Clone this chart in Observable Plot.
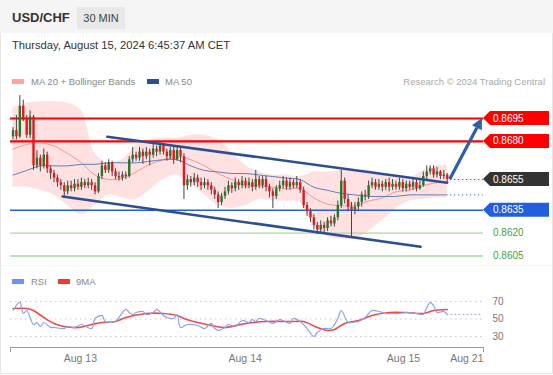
<!DOCTYPE html>
<html><head><meta charset="utf-8">
<script src="https://cdn.jsdelivr.net/npm/d3@7"></script>
<script src="https://cdn.jsdelivr.net/npm/@observablehq/plot@0.6"></script>
<style>
body{margin:0;background:#fff;font-family:"Liberation Sans",Arial,sans-serif;}
#root{position:relative;width:553px;height:375px;overflow:hidden;background:#fff;}
.a{position:absolute;white-space:nowrap;}
.lg{font-size:9.5px;line-height:11px;color:#888;}
.sw{height:5px;width:12px;}
</style></head><body>
<div id="root">
  <div class="a" style="left:0;top:0;width:553px;height:33px;background:#f5f5f5"></div>
  <div class="a" style="left:0;top:33px;width:551px;height:340px;border:1px solid #e6e6e6;border-top:none"></div>
  <div class="a" style="left:12px;top:10px;font-size:13px;font-weight:bold;color:#333">USD/CHF</div>
  <div class="a" style="left:77px;top:7px;width:48px;height:22px;line-height:22px;text-align:center;background:#e8e8e8;font-size:11px;color:#444">30 MIN</div>
  <div class="a" style="left:12px;top:39px;font-size:11.2px;color:#333">Thursday, August 15, 2024 6:45:37 AM CET</div>

  <div class="a sw" style="left:12px;top:79px;background:#ffa3a3"></div>
  <div class="a lg" style="left:31px;top:76px">MA 20 + Bollinger Bands</div>
  <div class="a sw" style="left:147px;top:79px;background:#2d4f8e"></div>
  <div class="a lg" style="left:165px;top:76px">MA 50</div>
  <div class="a lg" style="right:8px;top:76px;color:#aaa">Research © 2024 Trading Central</div>

  <div id="main" class="a" style="left:0;top:88px"></div>
  <div class="a" style="left:2px;top:265px;width:549px;border-top:1px dotted #ececec"></div>

  <div class="a sw" style="left:12px;top:279px;background:#6f92ee"></div>
  <div class="a lg" style="left:31px;top:276px">RSI</div>
  <div class="a sw" style="left:58px;top:279px;background:#f03a3a"></div>
  <div class="a lg" style="left:76px;top:276px">9MA</div>

  <div id="rsi" class="a" style="left:0;top:288px"></div>
</div>
<script>
// ---------- candles (30 min), index 0 .. 127 ----------
const opens = [0.8683,0.8687,0.8683,0.8703,0.8695,0.8684,0.8696,0.8664,0.8669,0.8664,
0.8671,0.8662,0.8659,0.8656,0.8653,0.8651,0.8647,0.8651,0.8649,0.8652,
0.8650,0.8653,0.8651,0.8653,0.8651,0.8647,0.8657,0.8664,0.8661,0.8666,
0.8660,0.8657,0.8656,0.8658,0.8657,0.8668,0.8671,0.8669,0.8673,0.8670,
0.8673,0.8671,0.8675,0.8673,0.8677,0.8673,0.8670,0.8674,0.8668,0.8674,
0.8670,0.8651,0.8655,0.8653,0.8656,0.8653,0.8651,0.8653,0.8651,0.8648,
0.8645,0.8640,0.8644,0.8647,0.8651,0.8649,0.8653,0.8651,0.8654,0.8651,
0.8653,0.8650,0.8655,0.8651,0.8655,0.8650,0.8647,0.8644,0.8649,0.8651,
0.8654,0.8650,0.8653,0.8651,0.8653,0.8648,0.8638,0.8634,0.8630,0.8625,
0.8622,0.8625,0.8623,0.8628,0.8626,0.8630,0.8638,0.8654,0.8642,0.8637,
0.8635,0.8637,0.8640,0.8645,0.8644,0.8651,0.8653,0.8650,0.8652,0.8650,
0.8653,0.8650,0.8652,0.8650,0.8653,0.8649,0.8652,0.8650,0.8653,0.8649,
0.8651,0.8657,0.8660,0.8662,0.8658,0.8660,0.8657,0.8658];
const closes = [0.8687,0.8683,0.8703,0.8695,0.8684,0.8696,0.8664,0.8669,0.8664,0.8671,
0.8662,0.8659,0.8656,0.8653,0.8651,0.8647,0.8651,0.8649,0.8652,0.8650,
0.8653,0.8651,0.8653,0.8651,0.8647,0.8657,0.8664,0.8661,0.8666,0.8660,
0.8657,0.8656,0.8658,0.8657,0.8668,0.8671,0.8669,0.8673,0.8670,0.8673,
0.8671,0.8675,0.8673,0.8677,0.8673,0.8670,0.8674,0.8668,0.8674,0.8670,
0.8651,0.8655,0.8653,0.8656,0.8653,0.8651,0.8653,0.8651,0.8648,0.8645,
0.8640,0.8644,0.8647,0.8651,0.8649,0.8653,0.8651,0.8654,0.8651,0.8653,
0.8650,0.8655,0.8651,0.8655,0.8650,0.8647,0.8644,0.8649,0.8651,0.8654,
0.8650,0.8653,0.8651,0.8653,0.8648,0.8638,0.8634,0.8630,0.8625,0.8622,
0.8625,0.8623,0.8628,0.8626,0.8630,0.8638,0.8654,0.8642,0.8637,0.8635,
0.8637,0.8640,0.8645,0.8644,0.8651,0.8653,0.8650,0.8652,0.8650,0.8653,
0.8650,0.8652,0.8650,0.8653,0.8649,0.8652,0.8650,0.8653,0.8649,0.8651,
0.8657,0.8660,0.8662,0.8658,0.8660,0.8657,0.8658,0.8655];
const highs = [0.8689,0.8697,0.8710,0.8707,0.8697,0.8700,0.8697,0.8674,0.8671,0.8675,
0.8673,0.8664,0.8661,0.8658,0.8655,0.8653,0.8654,0.8654,0.8655,0.8655,
0.8656,0.8655,0.8656,0.8655,0.8653,0.8659,0.8667,0.8666,0.8668,0.8667,
0.8662,0.8660,0.8660,0.8660,0.8670,0.8676,0.8673,0.8676,0.8675,0.8676,
0.8675,0.8678,0.8677,0.8679,0.8678,0.8675,0.8676,0.8676,0.8677,0.8676,
0.8672,0.8658,0.8657,0.8659,0.8658,0.8656,0.8656,0.8655,0.8653,0.8650,
0.8647,0.8646,0.8650,0.8654,0.8653,0.8656,0.8655,0.8657,0.8656,0.8656,
0.8655,0.8661,0.8657,0.8657,0.8657,0.8652,0.8649,0.8651,0.8654,0.8657,
0.8656,0.8656,0.8655,0.8657,0.8655,0.8650,0.8640,0.8636,0.8632,0.8627,
0.8628,0.8627,0.8630,0.8631,0.8632,0.8641,0.8661,0.8656,0.8645,0.8640,
0.8640,0.8643,0.8647,0.8648,0.8654,0.8656,0.8655,0.8655,0.8654,0.8655,
0.8656,0.8655,0.8654,0.8656,0.8655,0.8654,0.8654,0.8655,0.8655,0.8654,
0.8660,0.8664,0.8664,0.8664,0.8663,0.8661,0.8661,0.8659];
const lows = [0.8681,0.8681,0.8682,0.8693,0.8682,0.8682,0.8661,0.8662,0.8660,0.8662,
0.8659,0.8655,0.8653,0.8650,0.8648,0.8644,0.8645,0.8647,0.8647,0.8648,
0.8648,0.8649,0.8649,0.8648,0.8645,0.8646,0.8655,0.8659,0.8659,0.8657,
0.8655,0.8654,0.8654,0.8655,0.8656,0.8666,0.8667,0.8667,0.8665,0.8668,
0.8664,0.8669,0.8670,0.8671,0.8671,0.8667,0.8668,0.8665,0.8667,0.8666,
0.8642,0.8648,0.8650,0.8651,0.8650,0.8648,0.8649,0.8648,0.8645,0.8642,
0.8636,0.8638,0.8642,0.8645,0.8646,0.8647,0.8648,0.8649,0.8649,0.8649,
0.8647,0.8648,0.8649,0.8649,0.8647,0.8643,0.8636,0.8642,0.8647,0.8649,
0.8648,0.8648,0.8649,0.8649,0.8646,0.8636,0.8631,0.8627,0.8622,0.8619,
0.8620,0.8620,0.8621,0.8624,0.8624,0.8628,0.8636,0.8639,0.8634,0.8617,
0.8632,0.8634,0.8637,0.8641,0.8642,0.8649,0.8648,0.8648,0.8647,0.8648,
0.8647,0.8648,0.8648,0.8648,0.8647,0.8647,0.8648,0.8648,0.8647,0.8648,
0.8650,0.8655,0.8658,0.8656,0.8656,0.8655,0.8655,0.8653];

const bandIdx  = [0,4,8,12,16,20,24,28,32,36,40,44,48,52,56,60,64,68,72,76,80,84,88,92,96,100,104,108,112,116,120,124,127];
const bandUpper= [0.8702,0.8705,0.8706,0.8706,0.8705,0.8700,0.8672,0.8666,0.8668,0.8677,0.8681,0.8682,0.8682,0.8684,0.8684,0.8681,0.8673,0.8664,0.8660,0.8658,0.8658,0.8657,0.8660,0.8660,0.8661,0.8661,0.8661,0.8659,0.8657,0.8656,0.8661,0.8664,0.8664];
const bandLower= [0.8650,0.8650,0.8648,0.8645,0.8638,0.8632,0.8638,0.8645,0.8643,0.8642,0.8648,0.8655,0.8658,0.8652,0.8645,0.8638,0.8636,0.8638,0.8642,0.8641,0.8641,0.8640,0.8625,0.8618,0.8616,0.8616,0.8621,0.8628,0.8636,0.8641,0.8642,0.8643,0.8643];
const ma20     = [0.8675,0.8678,0.8679,0.8677,0.8672,0.8666,0.8658,0.8655,0.8656,0.8660,0.8665,0.8668,0.8670,0.8668,0.8664,0.8659,0.8655,0.8651,0.8651,0.8650,0.8649,0.8649,0.8643,0.8639,0.8638,0.8638,0.8641,0.8643,0.8647,0.8648,0.8651,0.8653,0.8653];
const ma50     = [0.8658,0.8661,0.8664,0.8664,0.8664,0.8665,0.8665,0.8666,0.8666,0.8666,0.8667,0.8668,0.8668,0.8664,0.8661,0.8660,0.8659,0.8659,0.8658,0.8657,0.8656,0.8655,0.8650,0.8648,0.8646,0.8645,0.8644,0.8644,0.8644,0.8645,0.8645,0.8645,0.8645];

// ---------- levels ----------
const resistance = [0.8695, 0.8680];
const pivot = [0.8635];
const support = [0.8620, 0.8605];
const lastPrice = 0.8655;
const ma50Last = 0.8645;
const tagLevels = [0.8695, 0.8680, 0.8655, 0.8635, 0.8620, 0.8605];
const tagFills  = ["#ff0000", "#ff0000", "#333333", "#1f5fe0", null, null];
const tagTexts  = ["#ffffff", "#ffffff", "#ffffff", "#ffffff", "#46a13c", "#46a13c"];

// ---------- channel and arrow ----------
const upperChannel = [{i: 27.6, p: 0.8683}, {i: 127, p: 0.8653}];
const lowerChannel = [{i: 14.5, p: 0.8644}, {i: 119.2, p: 0.8611}];
const arrowFrom = {i: 127.9, p: 0.8655};
const arrowTo   = {i: 137.3, p: 0.8695};

// ---------- RSI ----------
const rsiIdx = [0,2,3,4,6,7,8,9,11,12,15,16,18,20,23,24,26,27,30,31,33,34,35,36,38,39,41,42,44,45,47,48,49,51,54,56,58,59,60,62,63,65,67,69,70,71,72,74,76,78,79,81,82,84,86,88,89,91,93,95,96,98,99,101,103,105,107,109,111,113,115,118,120,121,122,123,124,126,127];
const rsiVal = [59.7,68.9,56.3,59.7,43.7,46.0,41.4,46.0,40.3,40.3,39.1,41.4,40.3,43.7,39.1,50.6,54.0,47.1,47.1,51.7,60.9,57.4,55.1,57.4,58.6,55.1,57.4,60.9,54.0,51.7,50.6,55.1,40.3,43.7,42.6,39.1,44.9,39.1,36.9,40.3,43.7,41.4,48.3,46.0,49.4,47.1,50.6,48.3,44.9,49.4,48.3,44.9,50.6,47.1,39.1,30.0,34.6,39.1,39.1,50.6,59.7,46.0,46.0,47.1,51.7,59.7,58.6,56.3,56.3,56.3,57.4,56.3,55.1,63.1,68.9,65.4,57.4,58.6,55.1];
const maIdx = [0,4,6,9,12,15,19,23,26,30,33,39,44,48,50,54,58,62,68,74,82,85,89,92,94,97,101,105,110,115,120,123,127];
const maVal = [62.0,62.0,59.7,51.7,44.9,41.4,40.3,43.7,46.0,47.1,51.7,56.3,56.3,54.0,50.6,46.0,42.6,40.3,44.9,47.1,47.1,47.1,40.3,36.9,38.0,44.9,48.3,54.0,57.4,57.4,56.3,59.7,60.9];
const rsiLevels = [30, 50, 70];
const rsiLast = 55.1;

// ---------- time axis ----------
const xStart = -0.73, xEnd = 137.6;
const timeTicks = [19.7, 67.9, 114.2];
const timeLabels = ["Aug 13", "Aug 14", "Aug 15"];
const endLabel = "Aug 21";

// ---------- build ----------
const candles = closes.map((c, i) => ({i, o: opens[i], c, h: highs[i], l: lows[i]}));
const band = bandIdx.map((i, k) => ({i, up: bandUpper[k], lo: bandLower[k], m20: ma20[k], m50: ma50[k]}));
const rsi = rsiIdx.map((i, k) => ({i, v: rsiVal[k]}));
const rsiMa = maIdx.map((i, k) => ({i, v: maVal[k]}));
const font = "Liberation Sans, Arial, sans-serif";

function tagMark(index, scales, values, dims) {
  const g = d3.create("svg:g").attr("text-anchor", "start");
  const x0 = dims.width - dims.marginRight;
  tagLevels.forEach((lv, k) => {
    const y = scales.y(lv);
    if (tagFills[k]) {
      g.append("path")
        .attr("d", `M${x0},${y}L${x0 + 7},${y - 7}H${x0 + 66}V${y + 7}H${x0 + 7}Z`)
        .attr("fill", tagFills[k]);
    }
    g.append("text").attr("x", x0 + 10).attr("y", y).attr("dy", "0.35em")
      .attr("text-anchor", "start")
      .attr("fill", tagTexts[k]).attr("font-size", 10).attr("font-family", font)
      .text(lv.toFixed(4));
  });
  return g.node();
}

// filled arrow head drawn through the scales, oriented along the arrow
function arrowHead(index, scales) {
  const x1 = scales.x(arrowFrom.i), y1 = scales.y(arrowFrom.p);
  const x2 = scales.x(arrowTo.i), y2 = scales.y(arrowTo.p);
  const ang = Math.atan2(y2 - y1, x2 - x1);
  const L = 11, W = 5.5;
  const bx = x2 - L * Math.cos(ang), by = y2 - L * Math.sin(ang);
  const px = -Math.sin(ang) * W, py = Math.cos(ang) * W;
  const g = d3.create("svg:g");
  g.append("line").attr("x1", x1).attr("y1", y1).attr("x2", bx).attr("y2", by)
    .attr("stroke", "#2d5ea8").attr("stroke-width", 3.2);
  g.append("path").attr("d", `M${x2},${y2}L${bx + px},${by + py}L${bx - px},${by - py}Z`)
    .attr("fill", "#2d5ea8");
  return g.node();
}

const main = Plot.plot({
  width: 553, height: 178,
  marginLeft: 10, marginRight: 70, marginTop: 0, marginBottom: 0,
  x: {domain: [xStart, xEnd], range: [10, 483], axis: null},
  y: {domain: [0.8605, 0.8695], range: [167.5, 30], axis: null},
  style: {background: "transparent", fontFamily: font, overflow: "visible"},
  marks: [
    Plot.areaY(band, {x: "i", y1: "lo", y2: "up", fill: "#ffdcdc", fillOpacity: 0.85, curve: "catmull-rom"}),
    Plot.ruleY(support, {stroke: "#a8d8a2", strokeWidth: 1.3}),
    Plot.ruleY(pivot, {stroke: "#1f5fe0", strokeWidth: 1.5}),
    Plot.ruleY(resistance, {stroke: "#ff0000", strokeWidth: 2.2}),
    Plot.line(band, {x: "i", y: "m20", stroke: "#f59595", strokeWidth: 1, curve: "catmull-rom"}),
    Plot.line(band, {x: "i", y: "m50", stroke: "#5d7fba", strokeWidth: 1, curve: "catmull-rom"}),
    Plot.ruleX(candles, {x: "i", y1: "l", y2: "h", stroke: "#444", strokeWidth: 1}),
    Plot.ruleX(candles.filter(d => d.c >= d.o), {x: "i", y1: "o", y2: "c", stroke: "#26752a", strokeWidth: 2.4}),
    Plot.ruleX(candles.filter(d => d.c < d.o), {x: "i", y1: "o", y2: "c", stroke: "#e3191f", strokeWidth: 2.4}),
    Plot.line(upperChannel, {x: "i", y: "p", stroke: "#2c4f91", strokeWidth: 2.5}),
    Plot.line(lowerChannel, {x: "i", y: "p", stroke: "#2c4f91", strokeWidth: 2.5}),
    Plot.ruleY([lastPrice], {x1: arrowFrom.i, x2: xEnd, stroke: "#555", strokeDasharray: "1.5,2.5"}),
    Plot.ruleY([ma50Last], {x1: arrowFrom.i, x2: xEnd, stroke: "#5d7fba", strokeDasharray: "1.5,2.5"}),
    arrowHead,
    tagMark
  ]
});
document.getElementById("main").append(main);

const rsiPlot = Plot.plot({
  width: 553, height: 80,
  marginLeft: 10, marginRight: 70, marginTop: 0, marginBottom: 21,
  x: {domain: [xStart, xEnd], range: [10, 483], label: null},
  y: {domain: [30, 70], range: [48, 13], label: null},
  style: {background: "transparent", fontFamily: font, fontSize: "10.5px", color: "#777", overflow: "visible"},
  marks: [
    Plot.ruleY(rsiLevels, {stroke: "#c9c9c9", strokeDasharray: "1.5,3.5"}),
    Plot.line(rsiMa, {x: "i", y: "v", stroke: "#f24848", strokeWidth: 1.6, curve: "catmull-rom"}),
    Plot.line(rsi, {x: "i", y: "v", stroke: "#86a3f2", strokeWidth: 1.2, curve: "catmull-rom"}),
    Plot.ruleY([rsiLast], {x1: 127, x2: xEnd, stroke: "#86a3f2", strokeDasharray: "1.5,2.5"}),
    Plot.frame({anchor: "bottom", stroke: "#9a9a9a"}),
    Plot.axisX({ticks: [xStart, xEnd], tickSize: 5, tickFormat: () => "", stroke: "#9a9a9a", label: null}),
    Plot.axisX({ticks: timeTicks, tickSize: 0, tickPadding: 7, label: null, tickFormat: d => timeLabels[timeTicks.indexOf(d)]}),
    Plot.axisX({ticks: [xEnd], tickSize: 0, tickPadding: 7, textAnchor: "end", label: null, tickFormat: () => endLabel}),
    Plot.axisY({anchor: "right", ticks: rsiLevels, tickSize: 0, tickPadding: 9, fontSize: 10, label: null})
  ]
});
document.getElementById("rsi").append(rsiPlot);
</script>
</body></html>
